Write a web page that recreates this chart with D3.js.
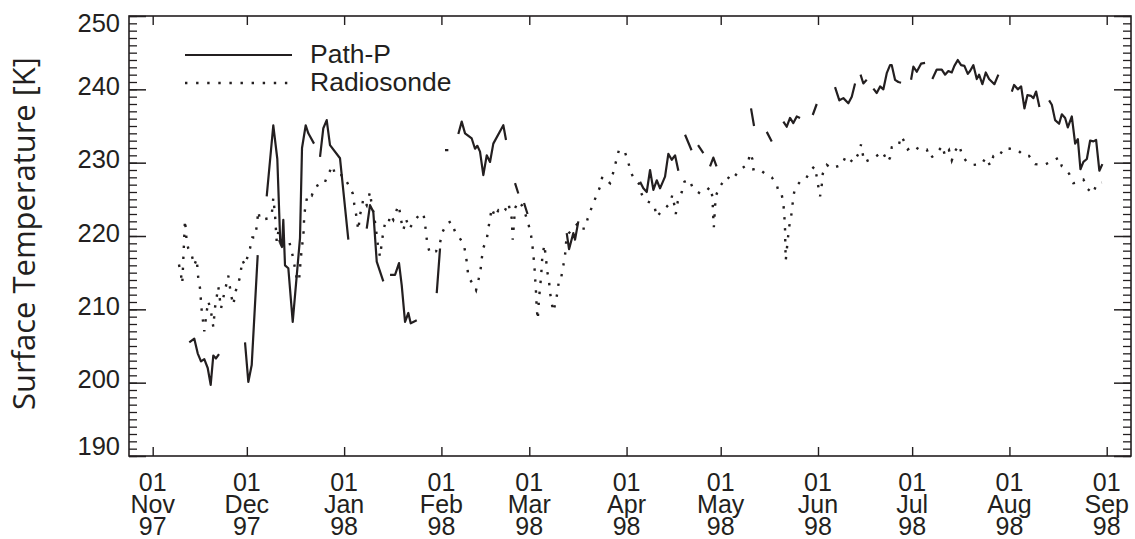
<!DOCTYPE html>
<html>
<head>
<meta charset="utf-8">
<script src="https://cdn.jsdelivr.net/npm/d3@7"></script>
<style>
  body { margin: 0; background: #fff; }
  text { font-family: "Liberation Sans", Arial, Helvetica, sans-serif; fill: #231f20; }
</style>
</head>
<body>
<div id="chart"></div>
<script>
// day offsets counted from 01 Nov 1997 (UTC), null = gap in the record
const pathDays = [
  11.66, 13.26, 14.34, 15.39, 16.44, 17.53, 18.48, 19.31, 20.17, 21.13, null,
  29.42, 30.47, 31.55, 33.46, null,
  36.33, 38.43, 39.71, 40.66, 41.21, 41.62, 42.16, 43.22, 44.62, 46.94, 47.58, 48.76, 49.59, 51.41, null,
  53.32, 54.37, 55.45, 56.50, 59.69, 62.34, null,
  68.20, 69.25, 70.30, 71.39, 73.49, null,
  75.63, 77.22, 78.49, 79.35, 80.41, 81.46, 82.22, 84.14, null,
  90.51, 91.56, null,
  93.15, 94.21, null,
  97.39, 98.47, 99.53, 101.66, 102.71, 103.45, 104.30, 105.36, 106.44, 107.49, 108.54, 111.73, 112.59, null,
  115.46, 116.51, null,
  118.33, 119.44, null,
  131.93, 132.67, 134.04, 134.58, 135.63, null,
  155.30, 156.35, 157.43, 158.48, 159.54, 160.62, 161.67, 163.26, 164.31, 165.40, 166.45, 167.50, null,
  169.64, 171.71, null,
  173.78, 175.47, null,
  177.60, 178.65, 179.67, null,
  190.66, 191.62, null,
  195.67, 197.26, null,
  200.96, 202.04, 203.09, 204.14, 205.23, 206.28, null,
  210.32, 211.60, null,
  217.43, 218.80, 220.08, 221.67, 222.76, 223.81, null,
  225.56, 226.45, 227.53, null,
  229.64, 230.72, 231.79, 232.83, 233.91, 234.96, 235.50, 236.55, 237.61, 238.47, null,
  241.66, 242.39, 243.47, 244.84, 246.12, null,
  248.44, 249.84, 251.44, 252.49, 253.54, 254.63, 255.46, 256.54, 257.60, 258.65,
  259.73, 260.46, 261.52, 262.59, 263.33, 264.38, 265.46, 266.51, 268.20, 269.48, null,
  273.76, 274.49, 275.67, 276.73, 277.78, 278.73, 279.91, 280.64, 281.50, 282.56, null,
  285.65, 286.51, 287.56, 288.83, 289.70, 290.75, 291.61, 292.88, 293.94, 294.80,
  295.63, 296.58, 297.67, 298.71, 299.77, 300.62, 301.66, 302.62
];
const pathTemps = [
  205.5, 206.0, 204.0, 202.9, 203.2, 202.0, 199.7, 203.7, 203.3, 203.9, null,
  205.5, 200.1, 202.4, 217.4, null,
  225.4, 235.1, 230.5, 219.0, 218.5, 222.2, 216.0, 215.6, 208.3, 219.7, 232.0, 235.1, 234.0, 232.6, null,
  230.8, 234.7, 235.8, 232.4, 230.6, 219.5, null,
  221.0, 224.2, 223.3, 216.5, 213.8, null,
  214.7, 214.7, 216.3, 213.3, 208.3, 209.5, 208.1, 208.5, null,
  212.2, 218.3, null,
  231.7, 231.7, null,
  233.9, 235.6, 234.0, 233.3, 231.9, 232.3, 231.5, 228.3, 231.0, 230.1, 232.6, 235.1, 233.1, null,
  227.2, 225.8, null,
  224.5, 223.0, null,
  220.4, 218.2, 220.4, 219.5, 222.0, null,
  227.4, 226.5, 226.0, 229.0, 226.3, 227.6, 226.5, 228.1, 231.2, 230.4, 231.0, 228.9, null,
  233.8, 231.7, null,
  232.4, 231.3, null,
  229.5, 230.7, 229.5, null,
  237.4, 235.0, null,
  234.2, 232.9, null,
  235.6, 234.9, 236.1, 235.4, 236.3, 236.1, null,
  236.5, 238.0, null,
  240.3, 238.5, 238.8, 238.1, 239.0, 240.8, null,
  242.0, 240.8, 241.3, null,
  240.1, 239.5, 240.4, 240.0, 242.2, 243.3, 243.3, 241.3, 241.0, 240.9, null,
  241.3, 243.1, 242.4, 243.5, 243.6, null,
  241.4, 242.7, 242.7, 242.0, 242.5, 242.3, 243.2, 244.0, 243.3, 243.2,
  242.1, 242.5, 243.3, 241.4, 242.0, 240.7, 242.3, 241.4, 240.7, 242.0, null,
  239.7, 240.6, 240.0, 240.4, 237.4, 239.2, 239.1, 238.8, 239.7, 237.6, null,
  238.5, 237.9, 235.8, 235.3, 236.6, 236.1, 234.8, 236.3, 232.6, 233.2,
  229.1, 230.1, 230.5, 233.0, 232.9, 233.1, 228.9, 229.8
];

const sondeDays = [
  8.38, 9.02, 9.43, 10.29, 10.84, 11.35, 12.43, 13.26, 14.02, 14.53, 15.07, 15.62, 16.44, 17.21, 17.72,
  18.58, 19.31, 19.85, 20.40, 20.91, 21.77, 22.50, 23.26, 24.09, 24.95, 25.69, 26.45, 27.09, 27.82, 28.56,
  29.42, 31.01, 31.74, 32.60, 33.14, 33.65, 34.20, 36.84, 37.93, 38.43, 38.98, 39.52, 40.03, 40.57, 41.11,
  43.22, 44.30, 44.81, 45.89, 46.62, 46.94, 47.49, 48.00, 48.31, 48.76, 49.40, 50.67, 51.72, 53.00, 54.59,
  55.64, 57.37, 58.10, 60.74, 62.34, 63.74, 64.25, 64.79, 65.52, 66.06, 66.61, 67.12, 68.20, 69.25, 69.79,
  70.53, 71.39, 71.90, 72.44, 72.98, 73.49, 74.03, 75.08, 75.63, 76.68, 77.22, 78.27, 78.81, 79.35, 79.87,
  80.73, 81.78, 83.28, 84.96, 86.24, 86.78, 87.10, 87.52, 88.37, 90.29, 91.56, 92.42, 93.70, 95.07, 96.34,
  98.16, 99.21, 99.85, 100.26, 100.58, 101.98, 103.03, 103.90, 104.53, 104.85, 105.36, 106.44, 106.95, 107.49, 108.04,
  109.09, 110.14, 111.22, 112.28, 113.33, 114.41, 114.73, 115.46, 116.51, 117.60, 118.65, 119.70, 120.56, 120.98, 121.30,
  121.62, 121.83, 122.06, 122.38, 122.70, 123.11, 123.75, 124.16, 124.80, 125.25, 125.76, 126.30, 126.62, 127.16, 127.67,
  128.43, 129.07, 129.49, 130.12, 130.86, 131.40, 131.93, 133.53, 134.58, 135.63, 136.72, 137.77, 138.63, 139.36, 140.10,
  141.28, 142.55, 143.28, 144.69, 145.74, 146.47, 148.61, 150.52, 151.57, 152.43, 153.71, 154.98, 155.84, 156.67, 157.75,
  158.81, 159.86, 160.62, 161.99, 163.81, 164.86, 165.59, 166.23, 166.68, 167.31, 168.59, 169.42, 170.91, 172.29, 174.42,
  176.56, 177.60, 178.34, 178.65, 178.81, 179.20, 179.42, 180.47, 182.16, 182.93, 184.52, 186.12, 187.71, 189.62, 190.35,
  191.09, 191.41, 193.00, 195.14, 197.27, 198.86, 199.60, 200.45, 200.96, 201.29, 201.51, 201.60, 201.73, 202.37, 202.78,
  203.42, 203.83, 204.14, 204.69, 206.28, 207.88, 209.47, 210.85, 211.61, 212.12, 212.66, 213.21, 213.53, 214.80, 216.40,
  217.44, 219.64, 220.86, 223.28, 224.87, 225.73, 226.15, 226.79, 229.97, 232.52, 234.24, 234.97, 235.51, 237.62, 238.47,
  239.21, 240.61, 242.39, 244.53, 246.67, 247.72, 249.85, 251.63, 252.49, 253.76, 254.63, 255.69, 256.96, 258.02, 259.42,
  261.52, 264.20, 265.47, 266.85, 267.90, 269.48, 271.40, 273.22, 275.67, 277.78, 279.27, 281.19, 284.15, 288.83, 289.70,
  292.02, 293.38, 294.48, 296.58, 297.98, 299.57, 300.85, 302.44
];
const sondeTemps = [
  216.1, 214.7, 213.5, 222.2, 219.2, 218.3, 217.4, 216.0, 216.9, 214.2, 212.9, 209.8, 207.0, 209.7, 211.1,
  209.7, 207.6, 210.2, 211.7, 213.1, 210.1, 211.6, 213.0, 214.6, 212.0, 210.6, 212.5, 213.3, 214.4, 216.7,
  216.0, 218.3, 219.8, 219.8, 221.3, 223.4, 222.2, 222.4, 222.9, 225.2, 222.9, 219.2, 220.6, 219.0, 219.9,
  219.7, 217.9, 216.9, 214.2, 213.8, 215.6, 218.3, 219.9, 222.9, 224.3, 225.7, 225.5, 226.7, 227.0, 227.0,
  228.2, 229.6, 228.3, 228.3, 227.0, 225.8, 224.3, 223.0, 220.8, 222.9, 223.8, 225.1, 224.2, 226.0, 224.2,
  222.9, 220.1, 218.3, 217.2, 219.0, 220.6, 221.7, 221.5, 222.9, 222.2, 222.9, 224.2, 223.2, 221.7, 220.8,
  222.3, 221.0, 222.0, 222.9, 223.1, 221.7, 220.4, 218.9, 217.6, 217.9, 219.1, 220.6, 221.7, 222.0, 220.6,
  219.5, 218.7, 217.2, 215.8, 214.4, 213.5, 212.6, 214.2, 215.6, 216.9, 218.4, 219.5, 221.0, 222.4, 223.8,
  222.6, 223.5, 223.1, 223.5, 224.5, 222.4, 219.5, 223.8, 224.7, 224.2, 223.1, 221.7, 220.1, 218.8, 217.4,
  216.0, 214.4, 213.1, 210.1, 208.6, 211.5, 214.4, 217.2, 218.8, 217.2, 215.1, 213.8, 212.3, 210.8, 209.7,
  211.0, 212.6, 214.1, 214.2, 216.0, 217.4, 220.1, 220.8, 221.3, 221.8, 221.0, 221.0, 222.4, 223.3, 224.1,
  225.4, 226.7, 228.1, 227.6, 227.2, 228.2, 231.8, 231.4, 230.0, 228.6, 227.6, 227.1, 225.7, 225.0, 224.7,
  224.5, 224.1, 222.6, 223.3, 224.0, 224.5, 225.6, 224.2, 223.0, 224.7, 226.0, 227.4, 227.7, 226.4, 225.8,
  226.2, 226.7, 225.4, 222.4, 221.2, 224.0, 225.4, 226.6, 227.6, 228.1, 227.6, 228.5, 229.2, 229.8, 231.3,
  230.5, 229.1, 229.2, 228.5, 228.0, 227.0, 225.7, 225.6, 224.5, 222.6, 220.8, 218.5, 216.7, 219.5, 221.2,
  222.6, 224.0, 225.4, 226.5, 227.4, 227.6, 228.8, 229.5, 228.1, 226.7, 225.4, 227.0, 228.5, 229.7, 229.2,
  229.4, 229.7, 230.9, 230.0, 231.2, 232.5, 231.4, 230.1, 230.7, 231.5, 230.1, 230.7, 232.1, 232.2, 233.6,
  233.1, 231.8, 232.3, 231.7, 231.8, 230.6, 231.3, 232.3, 230.9, 231.7, 230.3, 231.6, 232.4, 230.9, 230.1,
  229.7, 229.8, 230.7, 229.6, 230.9, 230.8, 232.0, 231.9, 231.7, 230.9, 230.9, 229.8, 229.7, 230.7, 229.5,
  228.5, 227.2, 227.3, 227.7, 226.4, 225.8, 227.1, 227.3
];

const yMajor = [190, 200, 210, 220, 230, 240, 250];
const monthStarts = ['1997-11-01', '1997-12-01', '1998-01-01', '1998-02-01', '1998-03-01', '1998-04-01',
  '1998-05-01', '1998-06-01', '1998-07-01', '1998-08-01', '1998-09-01'];
const seriesNames = ['Path-P', 'Radiosonde'];

const W = 1135, H = 539;
const frame = { left: 129, right: 1131, top: 16, bottom: 456 };
const t0 = Date.UTC(1997, 10, 1);
const toDate = (d) => new Date(t0 + d * 864e5);

const svg = d3.select('#chart').append('svg')
  .attr('width', W).attr('height', H);

const x = d3.scaleUtc()
  .domain([toDate(-7.55), toDate(311.74)])
  .range([frame.left, frame.right]);
const y = d3.scaleLinear()
  .domain([190, 250])
  .range([frame.bottom, frame.top]);

const ink = '#231f20';

// frame
svg.append('rect')
  .attr('x', frame.left).attr('y', frame.top)
  .attr('width', frame.right - frame.left)
  .attr('height', frame.bottom - frame.top)
  .attr('fill', 'none').attr('stroke', ink).attr('stroke-width', 1.6);

function tidy(g, w) {
  g.select('.domain').remove();
  g.selectAll('.tick line').attr('stroke', ink).attr('stroke-width', w);
}

// y ticks, inward on both sides
const minor = d3.range(190, 251, 1);
svg.append('g').attr('transform', `translate(${frame.left},0)`)
  .call(d3.axisRight(y).tickValues(minor).tickSize(8).tickFormat(''))
  .call((g) => tidy(g, 1.3));
svg.append('g').attr('transform', `translate(${frame.left},0)`)
  .call(d3.axisRight(y).tickValues(yMajor).tickSize(17).tickFormat(''))
  .call((g) => tidy(g, 1.5));
svg.append('g').attr('transform', `translate(${frame.right},0)`)
  .call(d3.axisLeft(y).tickValues(minor).tickSize(8).tickFormat(''))
  .call((g) => tidy(g, 1.3));
svg.append('g').attr('transform', `translate(${frame.right},0)`)
  .call(d3.axisLeft(y).tickValues(yMajor).tickSize(17).tickFormat(''))
  .call((g) => tidy(g, 1.5));

// y labels
svg.append('g').attr('transform', `translate(${frame.left},0)`)
  .call(d3.axisLeft(y).tickValues(yMajor).tickSize(0).tickPadding(9))
  .call((g) => {
    g.select('.domain').remove();
    g.selectAll('text')
      .attr('fill', ink)
      .style('font-size', '25.5px')
      .style('font-family', '"Liberation Sans", Arial, sans-serif')
      .attr('dy', (d) => (d === 250 ? '0.6em' : d === 190 ? '-0.05em' : '0.2em'));
  });

// x ticks, inward top and bottom
const months = monthStarts.map((s) => new Date(s + 'T00:00:00Z'));
svg.append('g').attr('transform', `translate(0,${frame.bottom})`)
  .call(d3.axisTop(x).tickValues(months).tickSize(9).tickFormat(''))
  .call((g) => tidy(g, 1.4));
svg.append('g').attr('transform', `translate(0,${frame.top})`)
  .call(d3.axisBottom(x).tickValues(months).tickSize(9).tickFormat(''))
  .call((g) => tidy(g, 1.4));

// x labels: day / month / year on three lines
const fmt = [d3.utcFormat('%d'), d3.utcFormat('%b'), d3.utcFormat('%y')];
const xl = svg.append('g').selectAll('text')
  .data(months).enter().append('text')
  .attr('x', (d) => x(d))
  .attr('y', 491)
  .attr('text-anchor', 'middle')
  .style('font-size', '25px');
fmt.forEach((f, i) => {
  xl.append('tspan')
    .attr('x', (d) => x(d))
    .attr('dy', i === 0 ? 0 : 22)
    .text((d) => f(d));
});

// y title
const yTitle = svg.append('text')
  .attr('transform', `translate(35,${(57 + 410) / 2}) rotate(-90)`)
  .attr('text-anchor', 'middle')
  .style('font-family', '"Open Sans", "Noto Sans", sans-serif')
  .style('font-size', '28px')
  .text('Surface Temperature [K]');
const len = yTitle.node().getComputedTextLength();
yTitle.style('font-size', `${(28 * 353) / len}px`);

// series
const rows = (days, temps) => days.map((d, i) => ({ d, t: temps[i] }));
const line = d3.line()
  .defined((p) => p.d != null && p.t != null)
  .x((p) => x(toDate(p.d)))
  .y((p) => y(p.t));

const plot = svg.append('g');
plot.append('path')
  .datum(rows(sondeDays, sondeTemps))
  .attr('d', line)
  .attr('fill', 'none')
  .attr('stroke', ink)
  .attr('stroke-width', 2.4)
  .attr('stroke-dasharray', '2.4,8.6');
plot.append('path')
  .datum(rows(pathDays, pathTemps))
  .attr('d', line)
  .attr('fill', 'none')
  .attr('stroke', ink)
  .attr('stroke-width', 2.2)
  .attr('stroke-linejoin', 'round');

// legend
const legend = svg.append('g');
const lgY = [55, 83];
seriesNames.forEach((name, i) => {
  legend.append('line')
    .attr('x1', 185).attr('x2', 292)
    .attr('y1', lgY[i]).attr('y2', lgY[i])
    .attr('stroke', ink)
    .attr('stroke-width', i === 1 ? 2.4 : 2.2)
    .attr('stroke-dasharray', i === 1 ? '2.4,8.7' : null);
  legend.append('text')
    .attr('x', 310)
    .attr('y', lgY[i] + 8)
    .style('font-size', '26.5px')
    .text(name);
});
</script>
</body>
</html>
